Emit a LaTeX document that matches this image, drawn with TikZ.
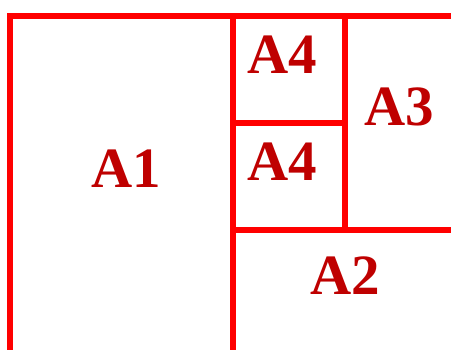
\documentclass[tikz,border=0pt]{standalone}
\usepackage{fontspec}
\setmainfont{Liberation Serif}
\usepackage{xcolor}
\usepackage{tikz}

\begin{document}
\begin{tikzpicture}[x=1pt, y=-1pt]
    % --- LAYER 1: BATAS GAMBAR ---
    \clip (0,0) rectangle (451,350);
    \fill[white] (0,0) rectangle (451,350);

    % Warna khusus
    \colorlet{colorGaris}{red}
    \colorlet{colorTeks}{red!75!black}
    \tikzset{garis/.style={colorGaris, line width=6pt, line join=miter},
             label/.style={colorTeks, font=\fontsize{57}{57}\selectfont\bfseries, inner sep=0pt}}

    % --- LAYER 2: GARIS PEMBAGI KERTAS ---
    \draw[garis] (10,360) -- (10,16) -- (460,16); % Tepi kiri dan atas
    \draw[garis] (233,16) -- (233,360);           % Batas A1
    \draw[garis] (233,230) -- (460,230);          % Batas A2
    \draw[garis] (345,16) -- (345,230);           % Batas A3
    \draw[garis] (233,123) -- (345,123);          % Batas A4

    % --- LAYER 3: TEKS UKURAN ---
    \node[label] (a1) at (126.5,169) {A1};
    \node[label] (a2) at (345,276) {A2};
    \node[label] (a3) at (399.5,107) {A3};
    \node[label] (a4atas) at (282.5,54.5) {A4};
    \node[label] (a4bawah) at (282.5,161.5) {A4};

\end{tikzpicture}
\end{document}
